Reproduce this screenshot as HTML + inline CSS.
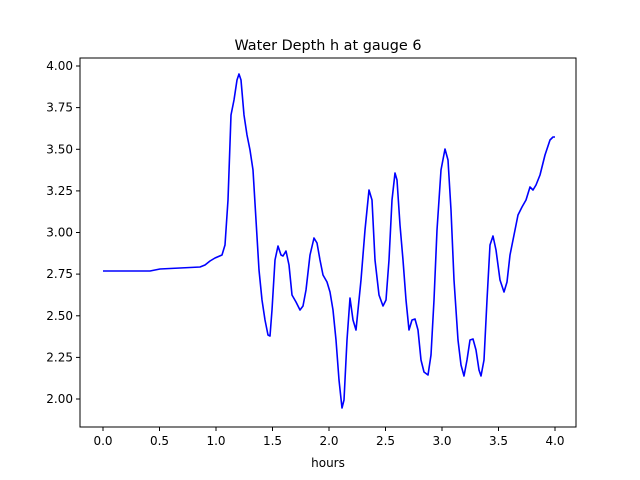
<!DOCTYPE html>
<html><head><style>body{margin:0;background:#fff}svg{display:block}text{font-family:"DejaVu Sans","Liberation Sans",sans-serif;fill:#000}</style></head>
<body>
<svg width="640" height="480" viewBox="0 0 640 480" xmlns="http://www.w3.org/2000/svg">
<rect width="640" height="480" fill="#fff"/>
<text x="328" y="50" font-size="14.4" text-anchor="middle">Water Depth h at gauge 6</text>
<polyline fill="none" stroke="#0000ff" stroke-width="1.6" stroke-linejoin="round" points="103,271 150,271 160,269 200,267 205,265 210,261 215,258 222,255 225,245 228,200 231,115 234,100 237,80 239,74 241,80 244,115 247,135 250,150 253,170 256,220 259,270 262,300 265,320 268,335 270,336 272,310 275,260 278,246 281,255 283,256 286,251 289,265 292,295 296,302 300,310 303,306 306,290 310,255 314,238 317,243 320,260 323,275 327,282 330,292 333,310 336,340 339,380 342,408 344,400 347,340 350,298 353,320 356,330 358,310 361,280 365,230 369,190 372,200 375,260 379,295 383,306 386,300 389,260 392,200 395,173 397,180 400,225 403,260 406,300 409,330 412,320 415,319 418,330 421,360 424,372 428,375 431,355 434,300 437,230 441,170 445,149 448,160 451,210 454,280 458,340 461,365 464,376 467,360 470,340 473,339 476,350 479,370 481,376 484,360 487,300 490,245 493,236 496,250 500,280 504,292 507,282 510,255 514,235 518,215 522,207 526,200 530,187 533,190 536,185 540,175 545,155 550,140 553,137 555,137"/>
<rect x="80" y="58" width="496" height="369" fill="none" stroke="#000" stroke-width="1"/>
<g stroke="#000" stroke-width="1">
<line x1="103" y1="427" x2="103" y2="431"/><line x1="159.5" y1="427" x2="159.5" y2="431"/><line x1="216" y1="427" x2="216" y2="431"/><line x1="272.5" y1="427" x2="272.5" y2="431"/><line x1="329" y1="427" x2="329" y2="431"/><line x1="385.5" y1="427" x2="385.5" y2="431"/><line x1="442" y1="427" x2="442" y2="431"/><line x1="498.5" y1="427" x2="498.5" y2="431"/><line x1="555" y1="427" x2="555" y2="431"/>
<line x1="76" y1="66" x2="80" y2="66"/><line x1="76" y1="107.6" x2="80" y2="107.6"/><line x1="76" y1="149.3" x2="80" y2="149.3"/><line x1="76" y1="190.9" x2="80" y2="190.9"/><line x1="76" y1="232.5" x2="80" y2="232.5"/><line x1="76" y1="274.1" x2="80" y2="274.1"/><line x1="76" y1="315.8" x2="80" y2="315.8"/><line x1="76" y1="357.4" x2="80" y2="357.4"/><line x1="76" y1="399" x2="80" y2="399"/>
</g>
<g font-size="12" text-anchor="middle">
<text x="103" y="445">0.0</text><text x="159.5" y="445">0.5</text><text x="216" y="445">1.0</text><text x="272.5" y="445">1.5</text><text x="329" y="445">2.0</text><text x="385.5" y="445">2.5</text><text x="442" y="445">3.0</text><text x="498.5" y="445">3.5</text><text x="555" y="445">4.0</text>
<text x="328" y="467">hours</text>
</g>
<g font-size="12" text-anchor="end">
<text x="73" y="70">4.00</text><text x="73" y="111.6">3.75</text><text x="73" y="153.3">3.50</text><text x="73" y="194.9">3.25</text><text x="73" y="236.5">3.00</text><text x="73" y="278.1">2.75</text><text x="73" y="319.8">2.50</text><text x="73" y="361.4">2.25</text><text x="73" y="403">2.00</text>
</g>
</svg>
</body></html>
